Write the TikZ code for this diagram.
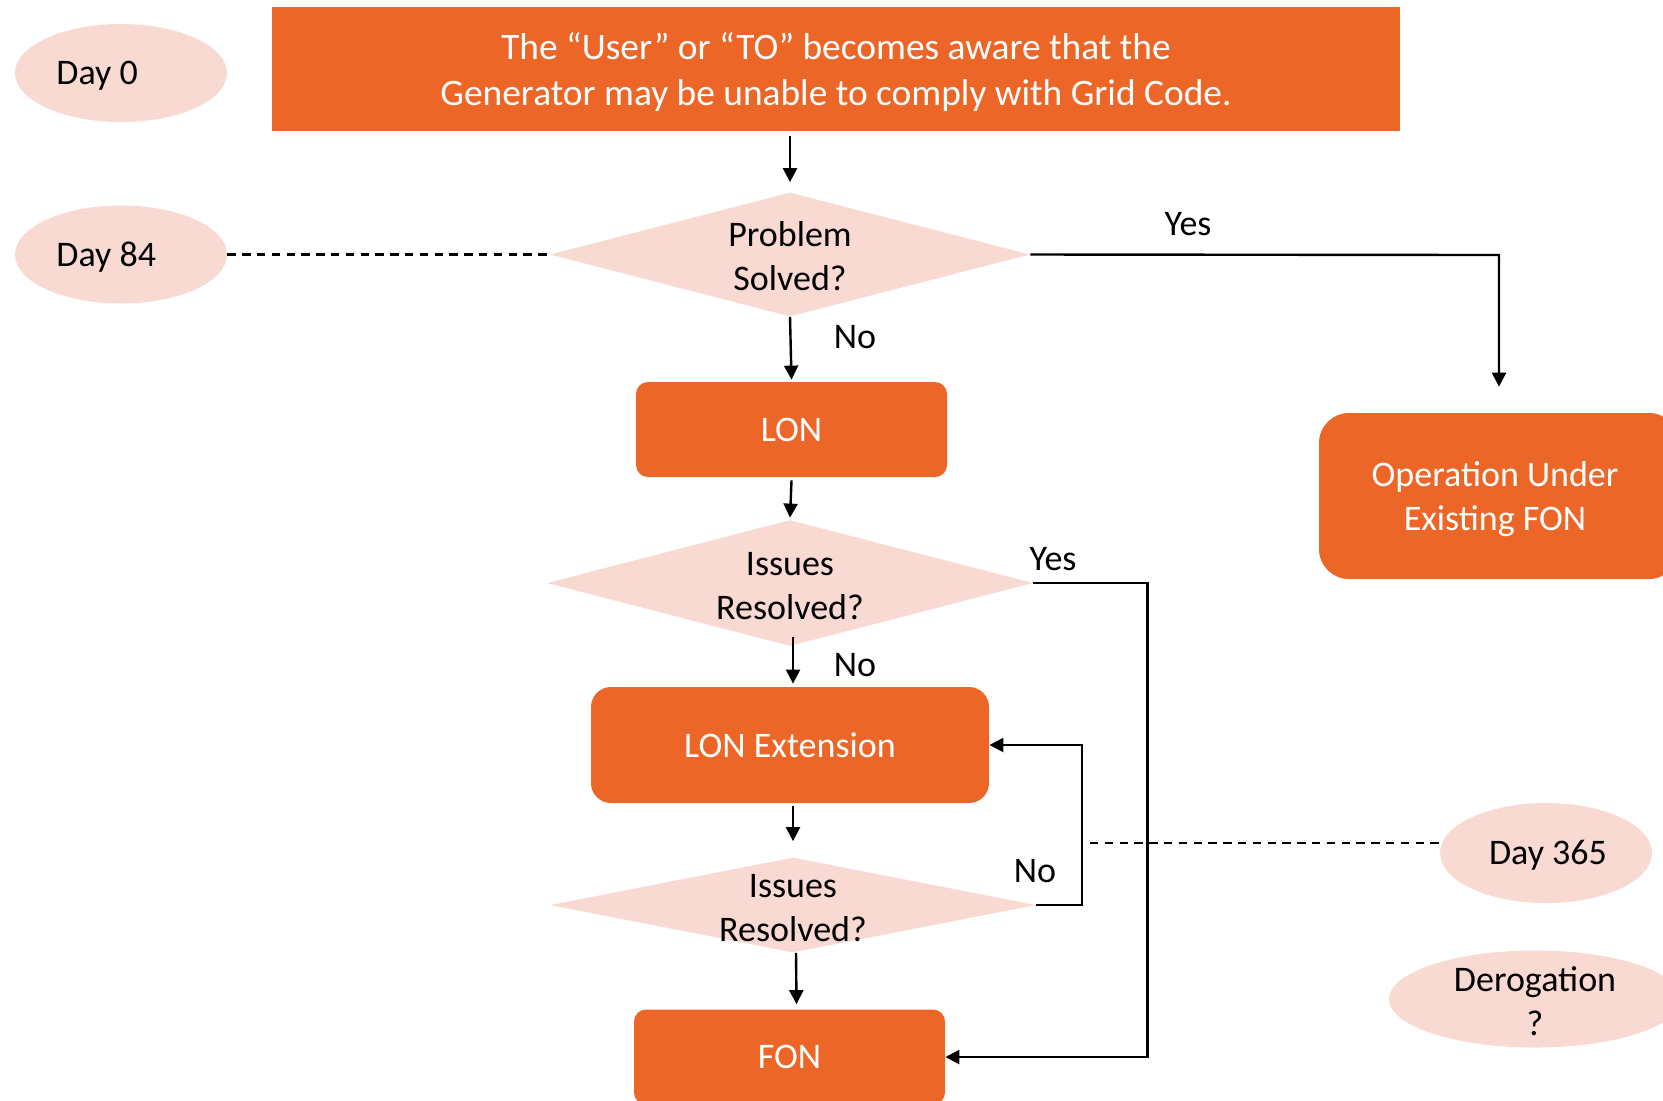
\documentclass[tikz,border=0pt]{standalone}
\usepackage{fontspec}
\setmainfont{Carlito}
\usetikzlibrary{arrows.meta,shapes.geometric,calc}
\definecolor{orng}{RGB}{236,102,40}
\definecolor{pnk}{RGB}{248,218,210}
\tikzset{
  every node/.style={font=\fontsize{18}{22}\selectfont},
  obox/.style={fill=orng, text=white, align=center, inner sep=0pt},
  dia/.style={diamond, fill=pnk, inner sep=0pt},
  ell/.style={ellipse, fill=pnk, inner sep=0pt},
  lbl/.style={inner sep=0pt, align=center},
  arr/.style={line width=1.2pt, -{Triangle[length=7pt,width=7pt]}},
  dsh/.style={line width=1.2pt, dash pattern=on 4.2pt off 3.2pt},
}
\begin{document}
\begin{tikzpicture}[x=0.5pt,y=-0.5pt]
\useasboundingbox (0,0) rectangle (1663,1100);
% top box
\node[obox, minimum width=563.7pt, minimum height=62pt] (top) at (836,68.5) {};
\node[lbl, text=white, font=\fontsize{18.7}{22.6}\selectfont] (topt) at (836,72)
  {The “User” or “TO” becomes aware that the\\Generator may be unable to comply with Grid Code.};
% day ellipses
\node[ell, minimum width=106pt, minimum height=49pt] (day0) at (121,73) {};
\node[lbl, anchor=west] (day0t) at (56,76) {Day 0};
\node[ell, minimum width=106pt, minimum height=49pt] (day84) at (121,254.5) {};
\node[lbl, anchor=west] (day84t) at (56,257.5) {Day 84};
\node[ell, minimum width=106pt, minimum height=50pt] (day365) at (1546,853) {};
\node[lbl] (day365t) at (1548,855) {Day 365};
\node[ell, minimum width=146pt, minimum height=48.5pt] (derog) at (1535,999) {};
\node[lbl] (derogt) at (1535,1001) {Derogation\\?};
% diamonds
\node[dia, minimum width=240pt, minimum height=62pt] (d1) at (790,254.5) {};
\node[lbl] (d1t) at (790,256) {Problem\\Solved?};
\node[dia, minimum width=243pt, minimum height=63pt] (d2) at (790,583) {};
\node[lbl] (d2t) at (790,586) {Issues\\Resolved?};
\node[dia, minimum width=243pt, minimum height=47.5pt] (d3) at (793,905) {};
\node[lbl] (d3t) at (793,908) {Issues\\Resolved?};
% boxes
\node[obox, rounded corners=6pt, minimum width=155.5pt, minimum height=47.5pt] (lon) at (791.5,429.5) {LON};
\node[obox, rounded corners=10pt, minimum width=199pt, minimum height=58pt] (lonx) at (790,745) {LON Extension};
\node[obox, rounded corners=6pt, minimum width=155.5pt, minimum height=47.5pt] (fon) at (789.5,1057) {FON};
\node[obox, rounded corners=15pt, minimum width=180pt, minimum height=83pt] (op) at (1499,496) {};
\node[lbl, text=white] (opt) at (1495,499) {Operation Under\\Existing FON};
% labels
\node[lbl] (yes1) at (1188,224) {Yes};
\node[lbl] (no1) at (855,337) {No};
\node[lbl] (yes2) at (1053,559) {Yes};
\node[lbl] (no2) at (855,665) {No};
\node[lbl] (no3) at (1035,871) {No};
% coordinates
\coordinate (c1) at (1499,255);
\coordinate (c2) at (1147.5,583);
\coordinate (c3) at (1147.5,1057);
\coordinate (c4) at (1082,905);
\coordinate (c5) at (1082,745);
\coordinate (c365) at (1090,843);
% connectors
\draw[arr] ([yshift=-2.5pt]top.south -| d1.north) -- ([yshift=5pt]d1.north);
\draw[arr] (d1.south) -- ([yshift=1pt]lon.north);
\draw[arr] ([yshift=-1.5pt]lon.south) -- ([yshift=1pt]d2.north);
\draw[arr] ([xshift=1.5pt,yshift=4.5pt]d2.south) -- ([xshift=1.5pt,yshift=1.5pt]lonx.north);
\draw[arr] ([xshift=1.5pt,yshift=-1.5pt]lonx.south) -- ([yshift=8pt]d3.north);
\draw[arr] ([xshift=1.5pt]d3.south) -- ([xshift=3.5pt,yshift=2.5pt]fon.north);
\draw[arr] (d1.east) -- (c1) -- ([yshift=13pt]op.north);
\draw[arr] (d2.east) -- (c2) -- (c3) -- (fon.east);
\draw[arr] (d3.east) -- (c4) -- (c5) -- (lonx.east);
\draw[dsh] (day84.east) -- (d1.west);
\draw[dsh] (c365) -- (c365 -| day365.west);
\end{tikzpicture}
\end{document}
